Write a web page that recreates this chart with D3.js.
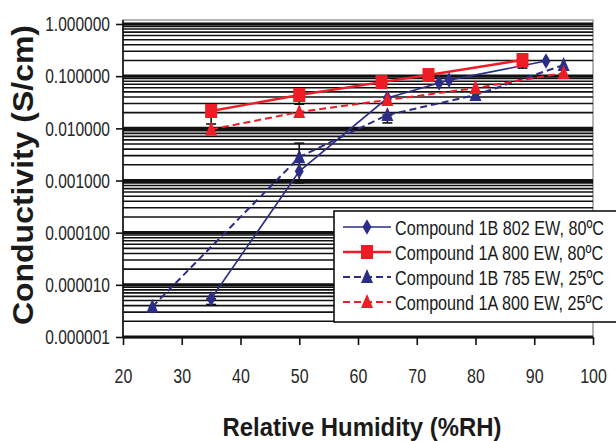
<!DOCTYPE html>
<html>
<head>
<meta charset="utf-8">
<script src="https://cdn.jsdelivr.net/npm/d3@7"></script>
<style>
  body { margin: 0; background: #fff; }
  text { font-family: "Liberation Sans", Arial, sans-serif; }
</style>
</head>
<body>
<svg id="chart" width="616" height="441"></svg>
<script>
// ---- data ----
var rhTicks = [20, 30, 40, 50, 60, 70, 80, 90, 100];
var condTicks = [0.000001, 0.00001, 0.0001, 0.001, 0.01, 0.1, 1];
var condLabels = ["0.000001", "0.000010", "0.000100", "0.001000", "0.010000", "0.100000", "1.000000"];

var seriesNames = ["Compound 1B 802 EW, 80ºC", "Compound 1A 800 EW, 80ºC",
                   "Compound 1B 785 EW, 25ºC", "Compound 1A 800 EW, 25ºC"];

// 1B 802 EW, 80C
var s1x = [35, 50, 65, 73.8, 75.5, 92];
var s1y = [0.0000054, 0.0015, 0.038, 0.074, 0.084, 0.195];
// 1A 800 EW, 80C
var s2x = [35, 50, 64, 72, 88];
var s2y = [0.0215, 0.0435, 0.077, 0.105, 0.204];
// 1B 785 EW, 25C
var s3x = [25, 50, 65, 80, 95];
var s3y = [0.0000038, 0.0028, 0.018, 0.0435, 0.164];
// 1A 800 EW, 25C
var s4x = [35, 50, 65, 80, 95];
var s4y = [0.0095, 0.0206, 0.035, 0.059, 0.115];

// error bars (black)
var errX  = [35, 50, 50, 65, 88, 35];
var errLo = [0.0121, 0.029, 0.0009, 0.0127, 0.143, 0.0000042];
var errHi = [0.028, 0.058, 0.0052, 0.018, 0.204, 0.0000054];

var navy = "#2b2d86";
var red = "#ee1d25";

var svg = d3.select("#chart");

// squeeze text horizontally (narrow font look)
function narrow(sel, ratio) {
    sel.each(function () {
        var w = this.getComputedTextLength();
        d3.select(this)
          .attr("textLength", w * ratio)
          .attr("lengthAdjust", "spacingAndGlyphs");
    });
}

var x = d3.scaleLinear()
          .domain([20, 100])
          .range([123, 593]);

var y = d3.scaleLog()
          .domain([0.000001, 1])
          .range([337, 24]);

// plot frame
svg.append("rect")
   .attr("x", 123).attr("y", 20)
   .attr("width", 470).attr("height", 317)
   .attr("fill", "#fff")
   .attr("stroke", "#9a9a9a")
   .attr("stroke-width", 1.5);

// log gridlines: every 1..9 x 10^n
var grid = svg.append("g");
grid.selectAll("line")
    .data(y.ticks())
    .enter()
    .append("line")
    .attr("x1", 123)
    .attr("x2", 593)
    .attr("y1", function (d) { return y(d); })
    .attr("y2", function (d) { return y(d); })
    .attr("stroke", "#111")
    .attr("stroke-width", function (d) {
        return condTicks.indexOf(d) >= 0 ? 3.2 : 1.6;
    });

// axes
var yAxis = d3.axisLeft(y)
              .tickValues(condTicks)
              .tickFormat(function (d, i) { return condLabels[i]; })
              .tickSize(7)
              .tickSizeOuter(0)
              .tickPadding(6);

var gy = svg.append("g")
            .attr("transform", "translate(123,0)")
            .call(yAxis);
gy.select(".domain").attr("stroke", "#111").attr("stroke-width", 1.6).attr("d", "M0,20V337");
gy.selectAll(".tick line").attr("stroke", "#111").attr("stroke-width", 1.6);
gy.selectAll("text")
  .attr("font-size", "21px")
  .attr("font-family", "'Liberation Sans', Arial, sans-serif")
  .attr("fill", "#262626")
  .call(narrow, 0.74);

var xAxis = d3.axisBottom(x)
              .tickValues(rhTicks)
              .tickSize(8)
              .tickSizeOuter(0)
              .tickPadding(23);

var gx = svg.append("g")
            .attr("transform", "translate(0,337)")
            .call(xAxis);
gx.select(".domain").attr("stroke", "#111").attr("stroke-width", 1.6);
gx.selectAll(".tick line").attr("stroke", "#111").attr("stroke-width", 1.6);
gx.selectAll("text")
  .attr("font-size", "21px")
  .attr("font-family", "'Liberation Sans', Arial, sans-serif")
  .attr("fill", "#262626")
  .call(narrow, 0.76);

// error bars
var eb = svg.append("g").attr("stroke", "#111").attr("stroke-width", 1.6);
errX.forEach(function (ex, i) {
    eb.append("line")
      .attr("x1", x(ex)).attr("x2", x(ex))
      .attr("y1", y(errLo[i])).attr("y2", y(errHi[i]));
    [errLo[i], errHi[i]].forEach(function (v) {
        eb.append("line")
          .attr("x1", x(ex) - 5).attr("x2", x(ex) + 5)
          .attr("y1", y(v)).attr("y2", y(v));
    });
});

// lines
var line = d3.line()
             .x(function (d) { return x(d[0]); })
             .y(function (d) { return y(d[1]); });

var series = [
    { xs: s1x, ys: s1y, color: navy, dash: null,  width: 1.6, marker: "diamond" },
    { xs: s3x, ys: s3y, color: navy, dash: "7,4", width: 2,   marker: "triangle" },
    { xs: s4x, ys: s4y, color: red,  dash: "7,4", width: 2,   marker: "triangle" },
    { xs: s2x, ys: s2y, color: red,  dash: null,  width: 2.4, marker: "square" }
];

var markerPath = {
    diamond: d3.symbol().type(d3.symbolDiamond).size(70)(),
    square: "M-6,-7H6V7H-6Z",
    triangle: "M0,-8L6,6H-6Z"
};

series.forEach(function (s) {
    var pts = s.xs.map(function (v, i) { return [v, s.ys[i]]; });
    svg.append("path")
       .datum(pts)
       .attr("d", line)
       .attr("fill", "none")
       .attr("stroke", s.color)
       .attr("stroke-width", s.width)
       .attr("stroke-dasharray", s.dash);
});

series.forEach(function (s) {
    var pts = s.xs.map(function (v, i) { return [v, s.ys[i]]; });
    svg.append("g")
       .selectAll("path")
       .data(pts)
       .enter()
       .append("path")
       .attr("transform", function (d) { return "translate(" + x(d[0]) + "," + y(d[1]) + ")"; })
       .attr("d", markerPath[s.marker])
       .attr("fill", s.color);
});

// legend
var legendStyle = [
    { color: navy, dash: null,  width: 1.6, marker: "diamond" },
    { color: red,  dash: null,  width: 2.4, marker: "square" },
    { color: navy, dash: "7,4", width: 2,   marker: "triangle" },
    { color: red,  dash: "7,4", width: 2,   marker: "triangle" }
];

var lg = svg.append("g");
lg.append("rect")
  .attr("x", 334).attr("y", 211)
  .attr("width", 285).attr("height", 111)
  .attr("fill", "#fff")
  .attr("stroke", "#111")
  .attr("stroke-width", 1.6);

seriesNames.forEach(function (name, i) {
    var st = legendStyle[i];
    var ly = 227 + i * 25;
    lg.append("line")
      .attr("x1", 343).attr("x2", 391)
      .attr("y1", ly).attr("y2", ly)
      .attr("stroke", st.color)
      .attr("stroke-width", st.width)
      .attr("stroke-dasharray", st.dash);
    lg.append("path")
      .attr("transform", "translate(367," + ly + ")")
      .attr("d", markerPath[st.marker])
      .attr("fill", st.color);
    lg.append("text")
      .attr("transform", "translate(395," + (ly + 8) + ") scale(0.77,1)")
      .attr("font-size", "21px")
      .attr("fill", "#1a1a1a")
      .text(name);
});

// axis titles
svg.append("text")
   .attr("transform", "translate(33,175) rotate(-90)")
   .attr("text-anchor", "middle")
   .attr("font-family", "'Liberation Sans', Arial, sans-serif")
   .attr("font-weight", "bold")
   .attr("font-size", "29px")
   .attr("textLength", 300)
   .attr("lengthAdjust", "spacingAndGlyphs")
   .attr("fill", "#1a1a1a")
   .text("Conductivity (S/cm)");

svg.append("text")
   .attr("x", 362)
   .attr("y", 436)
   .attr("text-anchor", "middle")
   .attr("font-family", "'Liberation Sans', Arial, sans-serif")
   .attr("font-weight", "bold")
   .attr("font-size", "25px")
   .attr("textLength", 279)
   .attr("lengthAdjust", "spacingAndGlyphs")
   .attr("fill", "#1a1a1a")
   .text("Relative Humidity (%RH)");
</script>
</body>
</html>
